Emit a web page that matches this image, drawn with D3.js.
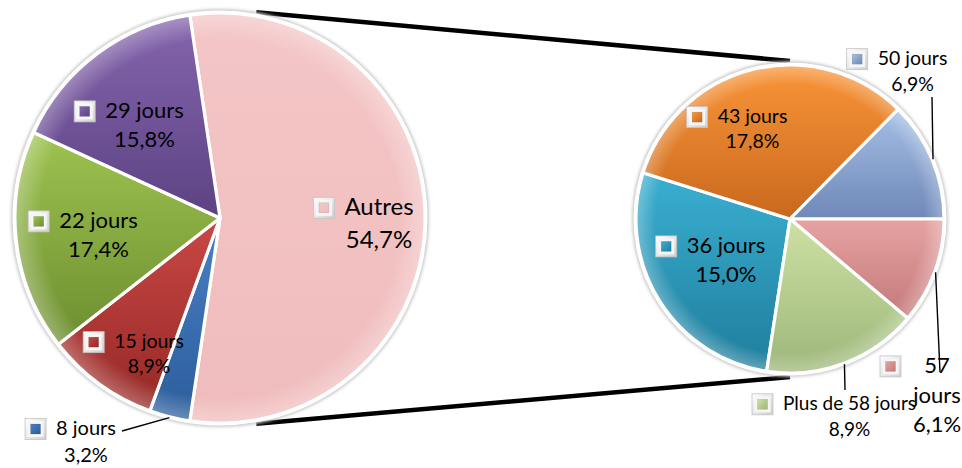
<!DOCTYPE html>
<html><head><meta charset="utf-8">
<script src="https://cdn.jsdelivr.net/npm/d3@7"></script>
<style>
html,body{margin:0;padding:0;background:#fff;}
svg{display:block;}
text{font-family:Lato,"Open Sans","Liberation Sans",sans-serif;fill:#000;}
</style></head>
<body><div id="chart"></div>
<script>
// ---- data ----
const leftCats  = ["Autres", "8 jours", "15 jours", "22 jours", "29 jours"];
const leftVals  = [54.7, 3.2, 8.9, 17.4, 15.8];
const rightCats = ["36 jours", "43 jours", "50 jours", "57 jours", "Plus de 58 jours"];
const rightVals = [15.0, 17.8, 6.9, 6.1, 8.9];

// ---- styles ----
const palette = {
  "Autres":           ["#F4C6C7", "#F0BCBD"],
  "8 jours":          ["#4A80C6", "#2B5D9B"],
  "15 jours":         ["#C94844", "#952826"],
  "22 jours":         ["#9EC350", "#6D8E30"],
  "29 jours":         ["#8565AE", "#5C4283"],
  "36 jours":         ["#3AAFD1", "#1F7D9C"],
  "43 jours":         ["#F99539", "#C9681D"],
  "50 jours":         ["#A4BFE5", "#6F88B8"],
  "57 jours":         ["#E6A3A3", "#C47878"],
  "Plus de 58 jours": ["#CEE1A5", "#9DB679"]
};
const W = 962, H = 468;
const leftPie  = {cx: 220, cy: 218, r: 205};
const rightPie = {cx: 790, cy: 219, r: 154};

const labelLayout = {
  "Autres":           {x: 379,   y: 215, lh: 33,   fs: 24},
  "29 jours":         {x: 144.5, y: 118, lh: 29,   fs: 22},
  "22 jours":         {x: 98.5,  y: 228, lh: 29,   fs: 22},
  "15 jours":         {x: 149,   y: 348, lh: 25,   fs: 19.5},
  "8 jours":          {x: 86,    y: 435, lh: 27,   fs: 20,  leader: [122, 431]},
  "50 jours":         {x: 912.5, y: 65,  lh: 26,   fs: 19.5, leader: [932, 97]},
  "43 jours":         {x: 752.5, y: 123, lh: 25,   fs: 19.5},
  "36 jours":         {x: 726,   y: 253, lh: 29,   fs: 22},
  "Plus de 58 jours": {x: 849.5, y: 410, lh: 26,   fs: 19,  leader: [845, 390]},
  "57 jours":         {x: 937,   y: 373, lh: 29.5, fs: 22,  wrap: true, markerX: 880, leader: [940, 372]}
};

const fmt = d3.formatLocale({decimal: ",", thousands: " ", grouping: [3], currency: ["", "€"]}).format(".1f");

const svg = d3.select("#chart").append("svg").attr("width", W).attr("height", H);
const defs = svg.append("defs");

Object.keys(palette).forEach((k, i) => {
  const g = defs.append("linearGradient").attr("id", "g" + i)
    .attr("x1", 0).attr("y1", 0).attr("x2", 0).attr("y2", 1);
  g.append("stop").attr("offset", "0%").attr("stop-color", palette[k][0]);
  g.append("stop").attr("offset", "100%").attr("stop-color", palette[k][1]);
  const m = defs.append("linearGradient").attr("id", "m" + i)
    .attr("x1", 0).attr("y1", 0).attr("x2", 1).attr("y2", 1);
  m.append("stop").attr("offset", "0%").attr("stop-color", palette[k][0]);
  m.append("stop").attr("offset", "100%").attr("stop-color", palette[k][1]);
});
const gradId = k => "url(#g" + Object.keys(palette).indexOf(k) + ")";
const markId = k => "url(#m" + Object.keys(palette).indexOf(k) + ")";

const rim = defs.append("radialGradient").attr("id", "rim");
rim.append("stop").attr("offset", "88%").attr("stop-color", "#fff").attr("stop-opacity", 0);
rim.append("stop").attr("offset", "100%").attr("stop-color", "#fff").attr("stop-opacity", 0.28);

const box = defs.append("linearGradient").attr("id", "box").attr("x1", 0).attr("y1", 0).attr("x2", 1).attr("y2", 1);
box.append("stop").attr("offset", "0%").attr("stop-color", "#ffffff");
box.append("stop").attr("offset", "100%").attr("stop-color", "#cfcfcf");

const blur = defs.append("filter").attr("id", "blur").attr("x", "-10%").attr("y", "-10%").attr("width", "120%").attr("height", "120%");
blur.append("feGaussianBlur").attr("stdDeviation", 1.6);

// ---- pies ----
const leftStart = Math.PI / 2 - Math.PI * leftVals[0] / 100;
const leftArcs = d3.pie().sort(null).value(d => d.v)
  .startAngle(leftStart).endAngle(leftStart + 2 * Math.PI)(leftCats.map((c, i) => ({c, v: leftVals[i]})));

const rTotal = d3.sum(rightVals);
const idx57 = rightCats.indexOf("57 jours");
const rightStart = Math.PI / 2 - 2 * Math.PI * d3.sum(rightVals.slice(0, idx57)) / rTotal;
const rightArcs = d3.pie().sort(null).value(d => d.v)
  .startAngle(rightStart).endAngle(rightStart + 2 * Math.PI)(rightCats.map((c, i) => ({c, v: rightVals[i]})));

// connector lines (behind pies)
const pt = (p, a, rr) => [p.cx + rr * Math.sin(a), p.cy - rr * Math.cos(a)];
const connA = 10 * Math.PI / 180;
const lt = pt(leftPie, connA, leftPie.r + 4), lb = pt(leftPie, Math.PI - connA, leftPie.r + 4);
const rt = [rightPie.cx, rightPie.cy - rightPie.r - 4], rb = [rightPie.cx, rightPie.cy + rightPie.r + 4];
svg.append("line").attr("x1", lt[0]).attr("y1", lt[1]).attr("x2", rt[0]).attr("y2", rt[1])
  .attr("stroke", "#000").attr("stroke-width", 4.5);
svg.append("line").attr("x1", lb[0]).attr("y1", lb[1]).attr("x2", rb[0]).attr("y2", rb[1])
  .attr("stroke", "#000").attr("stroke-width", 4.5);

function drawPie(p, arcs) {
  const g = svg.append("g").attr("transform", `translate(${p.cx},${p.cy})`);
  g.append("circle").attr("r", p.r + 4).attr("fill", "#c9c9c9").attr("filter", "url(#blur)");
  g.append("circle").attr("r", p.r + 2.5).attr("fill", "#fff");
  const arc = d3.arc().innerRadius(0).outerRadius(p.r);
  g.selectAll("path.slice").data(arcs).join("path").attr("class", "slice")
    .attr("d", arc).attr("fill", d => gradId(d.data.c))
    .attr("stroke", "#fff").attr("stroke-width", 3.2).attr("stroke-linejoin", "round");
  g.append("circle").attr("r", p.r - 1.5).attr("fill", "url(#rim)");
  return arcs;
}
drawPie(leftPie, leftArcs);
drawPie(rightPie, rightArcs);

// ---- labels ----
function drawLabels(p, arcs) {
  arcs.forEach(d => {
    const c = d.data.c, L = labelLayout[c];
    const g = svg.append("g");
    if (L.leader) {
      const mid = (d.startAngle + d.endAngle) / 2;
      const s = pt(p, mid, p.r + 1);
      svg.append("line").attr("x1", s[0]).attr("y1", s[1]).attr("x2", L.leader[0]).attr("y2", L.leader[1])
        .attr("stroke", "#000").attr("stroke-width", 1.4);
    }
    const lines = L.wrap ? c.split(" ").concat([fmt(d.data.v) + "%"]) : [c, fmt(d.data.v) + "%"];
    let firstLeft = 0;
    lines.forEach((t, i) => {
      const tx = g.append("text").attr("x", L.x).attr("y", L.y + i * L.lh)
        .attr("text-anchor", "middle").attr("font-size", L.fs).text(t);
      if (i === 0) firstLeft = L.x - tx.node().getComputedTextLength() / 2;
    });
    const ms = 21;
    const mx = L.markerX !== undefined ? L.markerX : firstLeft - 10 - ms;
    const my = L.y - 0.3 * L.fs - ms / 2;
    g.append("rect").attr("x", mx).attr("y", my).attr("width", ms).attr("height", ms)
      .attr("fill", "url(#box)").attr("stroke", "#c2c2c2").attr("stroke-width", 0.8);
    g.append("rect").attr("x", mx + 2.5).attr("y", my + 2.5).attr("width", ms - 5).attr("height", ms - 5)
      .attr("fill", "#f6f6f6");
    g.append("rect").attr("x", mx + 5.5).attr("y", my + 5.5).attr("width", ms - 11).attr("height", ms - 11)
      .attr("fill", markId(c)).attr("stroke", "rgba(0,0,0,0.15)").attr("stroke-width", 0.6);
  });
}
drawLabels(leftPie, leftArcs);
drawLabels(rightPie, rightArcs);
</script></body></html>
